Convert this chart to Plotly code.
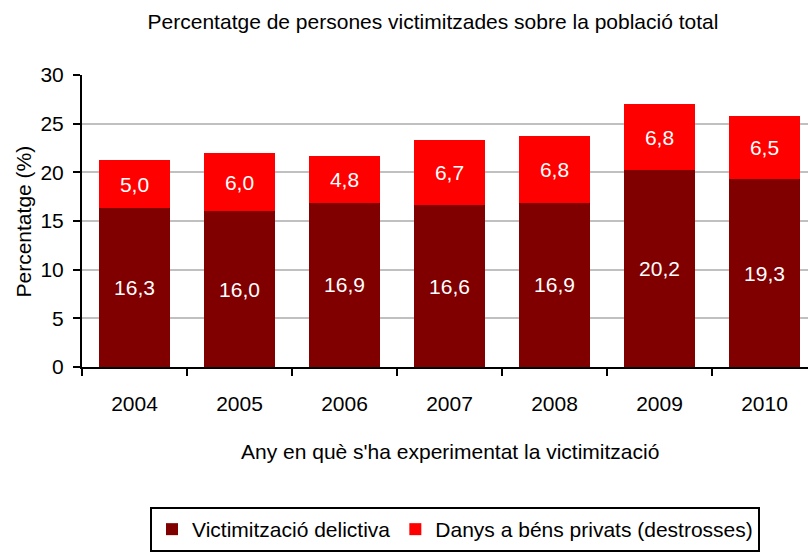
import plotly.graph_objects as go

years = ["2004", "2005", "2006", "2007", "2008", "2009", "2010"]
delictiva = [16.3, 16.0, 16.9, 16.6, 16.9, 20.2, 19.3]
danys = [5.0, 6.0, 4.8, 6.7, 6.8, 6.8, 6.5]
y_ticks = [0, 5, 10, 15, 20, 25, 30]

FONT = "Liberation Sans, Arial, sans-serif"
W, H = 808, 552
L, R, T, B = 82, 0, 75, 184
PW = W - L - R
PH = H - T - B


def fmt(v):
    return f"{v:.1f}".replace(".", ",")


fig = go.Figure()
fig.add_trace(go.Bar(
    x=years, y=delictiva, name="Victimització delictiva",
    marker=dict(color="#800000", line=dict(width=0)),
    text=[fmt(v) for v in delictiva], textposition="inside",
    insidetextanchor="middle", textangle=0,
    textfont=dict(color="white", size=21, family=FONT),
    hoverinfo="skip",
))
fig.add_trace(go.Bar(
    x=years, y=danys, name="Danys a béns privats (destrosses)",
    marker=dict(color="#FF0000", line=dict(width=0)),
    text=[fmt(v) for v in danys], textposition="inside",
    insidetextanchor="middle", textangle=0,
    textfont=dict(color="white", size=21, family=FONT),
    hoverinfo="skip",
))

# the plot area runs past the right edge of the picture
x_right = 6.5 - (L + 7 * 105 - W) / 105.0

fig.update_layout(
    width=W, height=H,
    margin=dict(l=L, r=R, t=T, b=B, pad=0),
    paper_bgcolor="white", plot_bgcolor="white",
    barmode="stack", bargap=0.324,
    font=dict(family=FONT, size=21, color="black"),
    title=dict(
        text="Percentatge de persones victimitzades sobre la població total",
        x=433 / W, xref="container", xanchor="center",
        y=1 - 22 / H, yref="container", yanchor="middle",
        font=dict(size=21, family=FONT, color="black"),
    ),
    xaxis=dict(
        type="category", range=[-0.5, x_right],
        showline=True, linecolor="black", linewidth=2,
        ticks="outside", tickson="boundaries", ticklen=7,
        tickwidth=2, tickcolor="black",
        ticklabelstandoff=17,
        showgrid=False, zeroline=False,
        tickfont=dict(size=21, family=FONT),
        fixedrange=True,
    ),
    yaxis=dict(
        range=[0, 30], tickvals=y_ticks,
        showline=True, linecolor="black", linewidth=2,
        ticks="outside", ticklen=7, tickwidth=2, tickcolor="black",
        ticklabelstandoff=5,
        showgrid=True, gridcolor="#c0c0c0", gridwidth=2,
        zeroline=False,
        tickfont=dict(size=21, family=FONT),
        fixedrange=True,
    ),
    legend=dict(
        orientation="h",
        x=(150 - L) / PW, xanchor="left",
        y=(T + PH - 508) / PH, yanchor="top",
        bordercolor="black", borderwidth=2, bgcolor="white",
        font=dict(size=21, family=FONT),
        traceorder="normal",
    ),
    showlegend=True,
    annotations=[
        dict(text="Any en què s'ha experimentat la victimització",
             xref="paper", yref="paper",
             x=(449.5 - L) / PW, y=(T + PH - 453) / PH,
             xanchor="center", yanchor="middle", showarrow=False,
             font=dict(size=21, family=FONT)),
        dict(text="Percentatge (%)",
             xref="paper", yref="paper",
             x=(23 - L) / PW, y=(T + PH - 222) / PH,
             xanchor="center", yanchor="middle", showarrow=False,
             textangle=-90,
             font=dict(size=21, family=FONT)),
    ],
)

fig.write_html(
    "out.html",
    config={"displayModeBar": False, "staticPlot": True},
    post_script="document.body.style.margin='0';document.body.style.overflow='hidden';",
)
